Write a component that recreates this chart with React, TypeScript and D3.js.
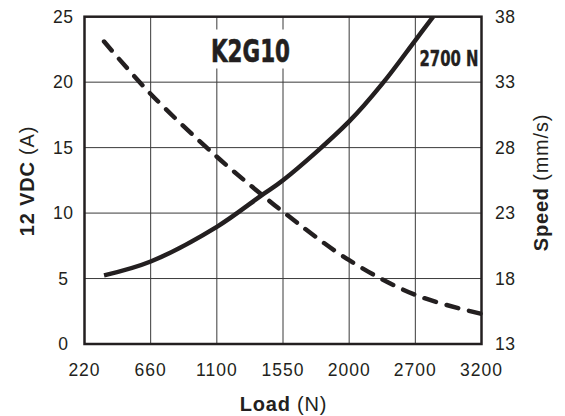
import React from "react";
import * as d3 from "d3";

const loadTicks = [220, 660, 1100, 1550, 2000, 2700, 3200];
const currentTicks = [0, 5, 10, 15, 20, 25];
const speedTicks = [13, 18, 23, 28, 33, 38];

const currentLoad = [350, 660, 1100, 1406, 1550, 2000, 2364, 2700, 2835];
const currentAmps = [5.24, 6.3, 8.95, 11.37, 12.5, 17.0, 20, 23.2, 25];

const speedLoad = [350, 660, 1100, 1406, 1550, 2000, 2700, 3200];
const speedMms = [36.1, 32.1, 27.3, 24.4, 23.1, 19.4, 16.75, 15.3];

const W = 565;
const H = 416;
const L = 84.5;
const R = 481.5;
const T = 16.7;
const B = 344;
const INK = "#231f20";
const FONT = "'Liberation Sans', Arial, Helvetica, sans-serif";
const NARROW = "'Liberation Sans Narrow', 'DejaVu Sans Condensed', 'Arial Narrow', sans-serif";

export default function App() {
  const step = (R - L) / (loadTicks.length - 1);
  const x = d3
    .scaleLinear()
    .domain(loadTicks)
    .range(loadTicks.map((_, i) => L + i * step));
  const yA = d3.scaleLinear().domain([0, 25]).range([B, T]);
  const yS = d3.scaleLinear().domain([13, 38]).range([B, T]);

  const line = d3
    .line<[number, number]>()
    .x((d) => d[0])
    .y((d) => d[1])
    .curve(d3.curveCatmullRom.alpha(0.5));

  const curPts: [number, number][] = currentLoad.map((l, i) => [x(l), yA(currentAmps[i])]);
  const spdPts: [number, number][] = speedLoad.map((l, i) => [x(l), yS(speedMms[i])]);

  return (
    <svg
      width={W}
      height={H}
      style={{ position: "absolute", left: 0, top: 0, background: "#fff" }}
      fontFamily={FONT}
    >
      <defs>
        <clipPath id="plot">
          <rect x={L} y={T} width={R - L} height={B - T} />
        </clipPath>
      </defs>
      <rect x={0} y={0} width={W} height={H} fill="#fff" />
      {loadTicks.slice(1, -1).map((t) => (
        <line key={"gx" + t} x1={x(t)} x2={x(t)} y1={T} y2={B} stroke="#3a3a3a" strokeWidth={1} />
      ))}
      {currentTicks.slice(1, -1).map((t) => (
        <line key={"gy" + t} x1={L} x2={R} y1={yA(t)} y2={yA(t)} stroke="#3a3a3a" strokeWidth={1} />
      ))}
      <rect x={205} y={29.5} width={91} height={39} fill="#fff" />
      <text
        x={250.5}
        y={62.3}
        textAnchor="middle"
        fontFamily={NARROW}
        fontWeight="bold"
        fontSize={32}
        fill={INK}
        stroke={INK}
        strokeWidth={0.6}
        textLength={79}
        lengthAdjust="spacingAndGlyphs"
      >
        K2G10
      </text>
      <text
        x={478.5}
        y={65.7}
        textAnchor="end"
        fontFamily={NARROW}
        fontWeight="bold"
        fontSize={22}
        fill={INK}
        stroke={INK}
        strokeWidth={0.4}
        textLength={59}
        lengthAdjust="spacingAndGlyphs"
      >
        2700 N
      </text>
      <g clipPath="url(#plot)">
        <path d={line(curPts) || ""} fill="none" stroke={INK} strokeWidth={4.5} />
      </g>
      <path
        d={line(spdPts) || ""}
        fill="none"
        stroke={INK}
        strokeWidth={4.5}
        strokeDasharray="12 11"
        strokeLinecap="round"
      />
      <rect x={L} y={T} width={R - L} height={B - T} fill="none" stroke={INK} strokeWidth={2.5} />
      {currentTicks.map((t) => (
        <text key={"la" + t} x={63.3} y={yA(t)} dy="0.36em" textAnchor="middle" fontSize={17.5} letterSpacing={0.6} fill={INK}>
          {t}
        </text>
      ))}
      {speedTicks.map((t) => (
        <text key={"rs" + t} x={495} y={yS(t)} dy="0.36em" textAnchor="start" fontSize={17.5} letterSpacing={0.6} fill={INK}>
          {t}
        </text>
      ))}
      {loadTicks.map((t) => (
        <text key={"bx" + t} x={x(t)} y={376} textAnchor="middle" fontSize={17.5} letterSpacing={1} fill={INK}>
          {t}
        </text>
      ))}
      <text x={283.5} y={410.5} textAnchor="middle" fontSize={20} letterSpacing={0.8} fill={INK}>
        <tspan fontWeight="bold">Load</tspan>
        <tspan> (N)</tspan>
      </text>
      <text transform="translate(33.5,181) rotate(-90)" textAnchor="middle" fontSize={20} letterSpacing={0.8} fill={INK}>
        <tspan fontWeight="bold">12 VDC</tspan>
        <tspan> (A)</tspan>
      </text>
      <text transform="translate(548,182.5) rotate(-90)" textAnchor="middle" fontSize={20} letterSpacing={0.8} fill={INK}>
        <tspan fontWeight="bold">Speed</tspan>
        <tspan> (mm/s)</tspan>
      </text>
    </svg>
  );
}
